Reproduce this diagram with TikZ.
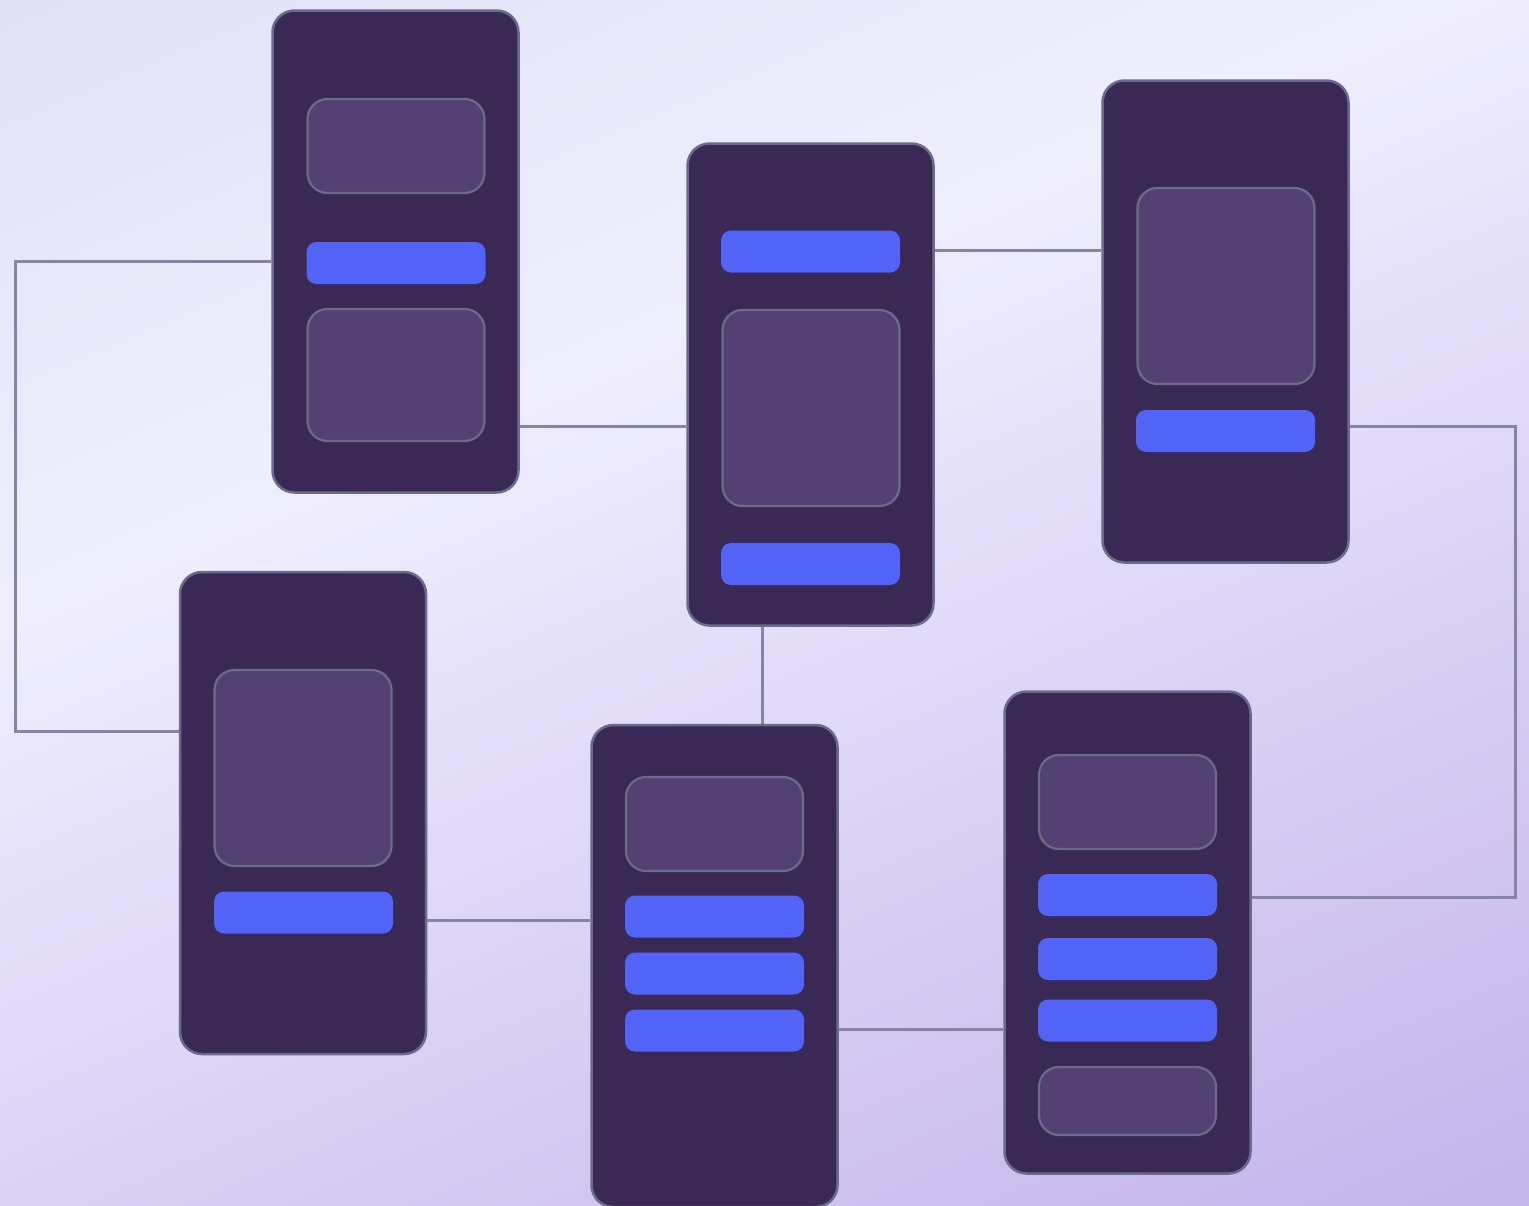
\documentclass[tikz,border=0pt]{standalone}
\usetikzlibrary{backgrounds}
\definecolor{cardfill}{HTML}{3A2955}
\definecolor{cardline}{HTML}{6C6A8C}
\definecolor{panelfill}{HTML}{534174}
\definecolor{panelline}{HTML}{6B6B8C}
\definecolor{barfill}{HTML}{5263F8}
\definecolor{wire}{HTML}{8683A6}
\definecolor{bgA}{HTML}{E1E2F6}
\definecolor{bgB}{HTML}{EFEEFE}
\definecolor{bgC}{HTML}{C4B3EA}
\tikzset{
  card/.style={draw=cardline, line width=2.5pt, fill=cardfill, rounded corners=22pt,
    minimum width=246pt, minimum height=482pt, inner sep=0pt},
  panel/.style={draw=panelline, line width=2.2pt, fill=panelfill, rounded corners=20pt,
    minimum width=177pt, inner sep=0pt},
  bar/.style={fill=barfill, rounded corners=10pt, minimum width=179pt, minimum height=42pt, inner sep=0pt},
  wireline/.style={draw=wire, line width=3pt}
}
\begin{document}
\begin{tikzpicture}[x=1pt,y=-1pt]
\clip (0,0) rectangle (1529,1205);
% cards
\node[card] (A) at (395.5,251.5) {};
\node[card] (B) at (810.5,384.5) {};
\node[card] (C) at (1225.5,321.5) {};
\node[card] (D) at (303,813) {};
\node[card] (E) at (714.5,966) {};
\node[card] (F) at (1127.5,932.5) {};
% card A content
\node[panel, minimum height=94pt] (A1) at (396,146) {};
\node[bar] (A2) at (396,263) {};
\node[panel, minimum height=132pt] (A3) at (396,375) {};
% card B content
\node[bar] (B1) at (810.5,251.5) {};
\node[panel, minimum height=196pt] (B2) at (811,408) {};
\node[bar] (B3) at (810.5,564) {};
% card C content
\node[panel, minimum height=196pt] (C1) at (1226,286) {};
\node[bar] (C2) at (1225.5,431) {};
% card D content
\node[panel, minimum height=196pt] (D1) at (303,768) {};
\node[bar] (D2) at (303.5,912.5) {};
% card E content
\node[panel, minimum height=94pt] (E1) at (714.5,824) {};
\node[bar] (E2) at (714.5,916.5) {};
\node[bar] (E3) at (714.5,973.5) {};
\node[bar] (E4) at (714.5,1030.5) {};
% card F content
\node[panel, minimum height=94pt] (F1) at (1127.5,802) {};
\node[bar] (F2) at (1127.5,895) {};
\node[bar] (F3) at (1127.5,959) {};
\node[bar] (F4) at (1127.5,1020.5) {};
\node[panel, minimum height=68pt] (F5) at (1127.5,1101) {};
% connector corners
\coordinate (LT) at (15,261);
\coordinate (LB) at (15,731);
\coordinate (RT) at (1515,426);
\coordinate (RB) at (1515,897);
\begin{scope}[on background layer]
  % diagonal background gradient drawn as thin bands
  \begin{scope}[x={(0.9205pt,0.3907pt)}, y={(0.3907pt,-0.9205pt)}]
    \foreach \v in {-20,-10,...,1720} {
      \pgfmathtruncatemacro\pa{max(0,min(100,\v/5.6))}
      \pgfmathtruncatemacro\pb{max(0,min(100,(\v-560)/11.45))}
      \colorlet{mixAB}{bgB!\pa!bgA}
      \fill[color=bgC!\pb!mixAB] (-600,\v) -- (1500,\v) -- (1500,\v+11) -- (-600,\v+11) -- cycle;
    }
  \end{scope}
  \draw[wireline] (A.west |- LT) -- (LT) -- (LB) -- (D.west |- LB);
  \draw[wireline] (A.east |- 0,426) -- (B.west |- 0,426);
  \draw[wireline] (B.east |- 0,250) -- (C.west |- 0,250);
  \draw[wireline] (C.east |- RT) -- (RT) -- (RB) -- (F.east |- RB);
  \draw[wireline] (B.south -| 762,0) -- (E.north -| 762,0);
  \draw[wireline] (D.east |- 0,920) -- (E.west |- 0,920);
  \draw[wireline] (E.east |- 0,1029) -- (F.west |- 0,1029);
\end{scope}
\end{tikzpicture}
\end{document}
